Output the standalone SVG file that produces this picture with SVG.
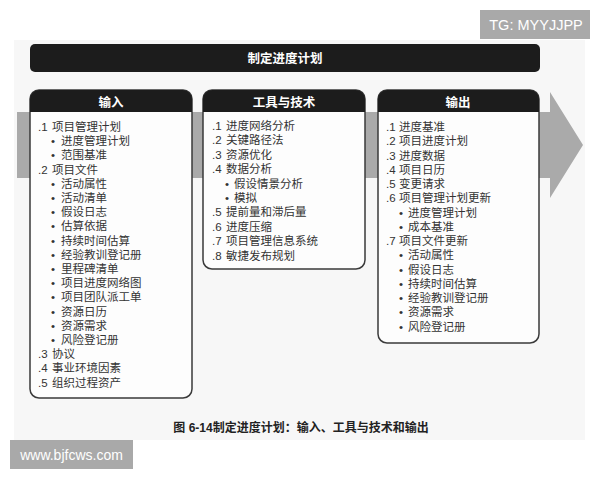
<svg xmlns="http://www.w3.org/2000/svg" width="600" height="480" viewBox="0 0 600 480">
<style>
.t{font-family:"Liberation Sans","Noto Sans CJK SC",sans-serif;font-size:11.5px;fill:#333}
.n{font-family:"Liberation Sans","Noto Sans CJK SC",sans-serif;font-size:11.5px;fill:#333}
.h{font-family:"Liberation Sans","Noto Sans CJK SC",sans-serif;font-size:12.5px;font-weight:bold;fill:#fff;text-anchor:middle}
.box{fill:#fdfdfd;stroke:#3a3a3a;stroke-width:1.5}
.hdr{fill:#1c1c1c}
.wm{font-family:"Liberation Sans",sans-serif;fill:#fff;text-anchor:middle}
</style>
<rect x="0" y="0" width="600" height="480" fill="#ffffff"/>
<rect x="14" y="40" width="571" height="400" fill="#f7f7f7"/>
<g id="watermark-tg">
<rect x="480" y="10" width="110" height="29" fill="#a9a9a9"/>
<text class="wm" x="536" y="30" font-size="14.5">TG: MYYJJPP</text>
</g>
<g id="title">
<rect x="30" y="44" width="510" height="28" rx="5" fill="#1c1c1c"/>
<text class="h" x="285" y="63" font-size="13.5">制定进度计划</text>
</g>
<g id="connectors">
<polygon points="17,112 550,112 550,92 583,145 550,198 550,178 17,178" fill="#aaaaaa"/>
</g>
<g id="inputs">
<rect class="box" x="30" y="90" width="162" height="308" rx="9"/>
<path class="hdr" d="M30,112 V99 A9,9 0 0 1 39,90 H183 A9,9 0 0 1 192,99 V112 Z"/>
<text class="h" x="111" y="106.5">输入</text>
<text class="n" x="38" y="131">.1</text><text class="t" x="52" y="131">项目管理计划</text>
<text class="n" x="51" y="145.2">•</text><text class="t" x="61" y="145.2">进度管理计划</text>
<text class="n" x="51" y="159.4">•</text><text class="t" x="61" y="159.4">范围基准</text>
<text class="n" x="38" y="173.6">.2</text><text class="t" x="52" y="173.6">项目文件</text>
<text class="n" x="51" y="187.8">•</text><text class="t" x="61" y="187.8">活动属性</text>
<text class="n" x="51" y="202">•</text><text class="t" x="61" y="202">活动清单</text>
<text class="n" x="51" y="216.2">•</text><text class="t" x="61" y="216.2">假设日志</text>
<text class="n" x="51" y="230.4">•</text><text class="t" x="61" y="230.4">估算依据</text>
<text class="n" x="51" y="244.6">•</text><text class="t" x="61" y="244.6">持续时间估算</text>
<text class="n" x="51" y="258.8">•</text><text class="t" x="61" y="258.8">经验教训登记册</text>
<text class="n" x="51" y="273">•</text><text class="t" x="61" y="273">里程碑清单</text>
<text class="n" x="51" y="287.2">•</text><text class="t" x="61" y="287.2">项目进度网络图</text>
<text class="n" x="51" y="301.4">•</text><text class="t" x="61" y="301.4">项目团队派工单</text>
<text class="n" x="51" y="315.6">•</text><text class="t" x="61" y="315.6">资源日历</text>
<text class="n" x="51" y="329.8">•</text><text class="t" x="61" y="329.8">资源需求</text>
<text class="n" x="51" y="344">•</text><text class="t" x="61" y="344">风险登记册</text>
<text class="n" x="38" y="358.2">.3</text><text class="t" x="52" y="358.2">协议</text>
<text class="n" x="38" y="372.4">.4</text><text class="t" x="52" y="372.4">事业环境因素</text>
<text class="n" x="38" y="386.6">.5</text><text class="t" x="52" y="386.6">组织过程资产</text>
</g>
<g id="tools">
<rect class="box" x="203" y="90" width="162" height="179" rx="9"/>
<path class="hdr" d="M203,112 V99 A9,9 0 0 1 212,90 H356 A9,9 0 0 1 365,99 V112 Z"/>
<text class="h" x="284" y="106.5">工具与技术</text>
<text class="n" x="212" y="130">.1</text><text class="t" x="226" y="130">进度网络分析</text>
<text class="n" x="212" y="144.4">.2</text><text class="t" x="226" y="144.4">关键路径法</text>
<text class="n" x="212" y="158.8">.3</text><text class="t" x="226" y="158.8">资源优化</text>
<text class="n" x="212" y="173.2">.4</text><text class="t" x="226" y="173.2">数据分析</text>
<text class="n" x="225" y="187.6">•</text><text class="t" x="234" y="187.6">假设情景分析</text>
<text class="n" x="225" y="202">•</text><text class="t" x="234" y="202">模拟</text>
<text class="n" x="212" y="216.4">.5</text><text class="t" x="226" y="216.4">提前量和滞后量</text>
<text class="n" x="212" y="230.8">.6</text><text class="t" x="226" y="230.8">进度压缩</text>
<text class="n" x="212" y="245.2">.7</text><text class="t" x="226" y="245.2">项目管理信息系统</text>
<text class="n" x="212" y="259.6">.8</text><text class="t" x="226" y="259.6">敏捷发布规划</text>
</g>
<g id="outputs">
<rect class="box" x="378" y="90" width="161" height="253" rx="9"/>
<path class="hdr" d="M378,112 V99 A9,9 0 0 1 387,90 H530 A9,9 0 0 1 539,99 V112 Z"/>
<text class="h" x="458" y="106.5">输出</text>
<text class="n" x="386" y="131">.1</text><text class="t" x="399" y="131">进度基准</text>
<text class="n" x="386" y="145.25">.2</text><text class="t" x="399" y="145.25">项目进度计划</text>
<text class="n" x="386" y="159.5">.3</text><text class="t" x="399" y="159.5">进度数据</text>
<text class="n" x="386" y="173.75">.4</text><text class="t" x="399" y="173.75">项目日历</text>
<text class="n" x="386" y="188">.5</text><text class="t" x="399" y="188">变更请求</text>
<text class="n" x="386" y="202.25">.6</text><text class="t" x="399" y="202.25">项目管理计划更新</text>
<text class="n" x="399" y="216.5">•</text><text class="t" x="408" y="216.5">进度管理计划</text>
<text class="n" x="399" y="230.75">•</text><text class="t" x="408" y="230.75">成本基准</text>
<text class="n" x="386" y="245">.7</text><text class="t" x="399" y="245">项目文件更新</text>
<text class="n" x="399" y="259.25">•</text><text class="t" x="408" y="259.25">活动属性</text>
<text class="n" x="399" y="273.5">•</text><text class="t" x="408" y="273.5">假设日志</text>
<text class="n" x="399" y="287.75">•</text><text class="t" x="408" y="287.75">持续时间估算</text>
<text class="n" x="399" y="302">•</text><text class="t" x="408" y="302">经验教训登记册</text>
<text class="n" x="399" y="316.25">•</text><text class="t" x="408" y="316.25">资源需求</text>
<text class="n" x="399" y="330.5">•</text><text class="t" x="408" y="330.5">风险登记册</text>
</g>
<g id="caption">
<text x="301" y="432" font-family="Liberation Sans,'Noto Sans CJK SC',sans-serif" font-size="12" font-weight="bold" fill="#222" text-anchor="middle">图 6-14制定进度计划：输入、工具与技术和输出</text>
</g>
<g id="watermark-site">
<rect x="10" y="440" width="123" height="29" fill="#a9a9a9"/>
<text class="wm" x="71.5" y="460" font-size="14">www.bjfcws.com</text>
</g>
</svg>
